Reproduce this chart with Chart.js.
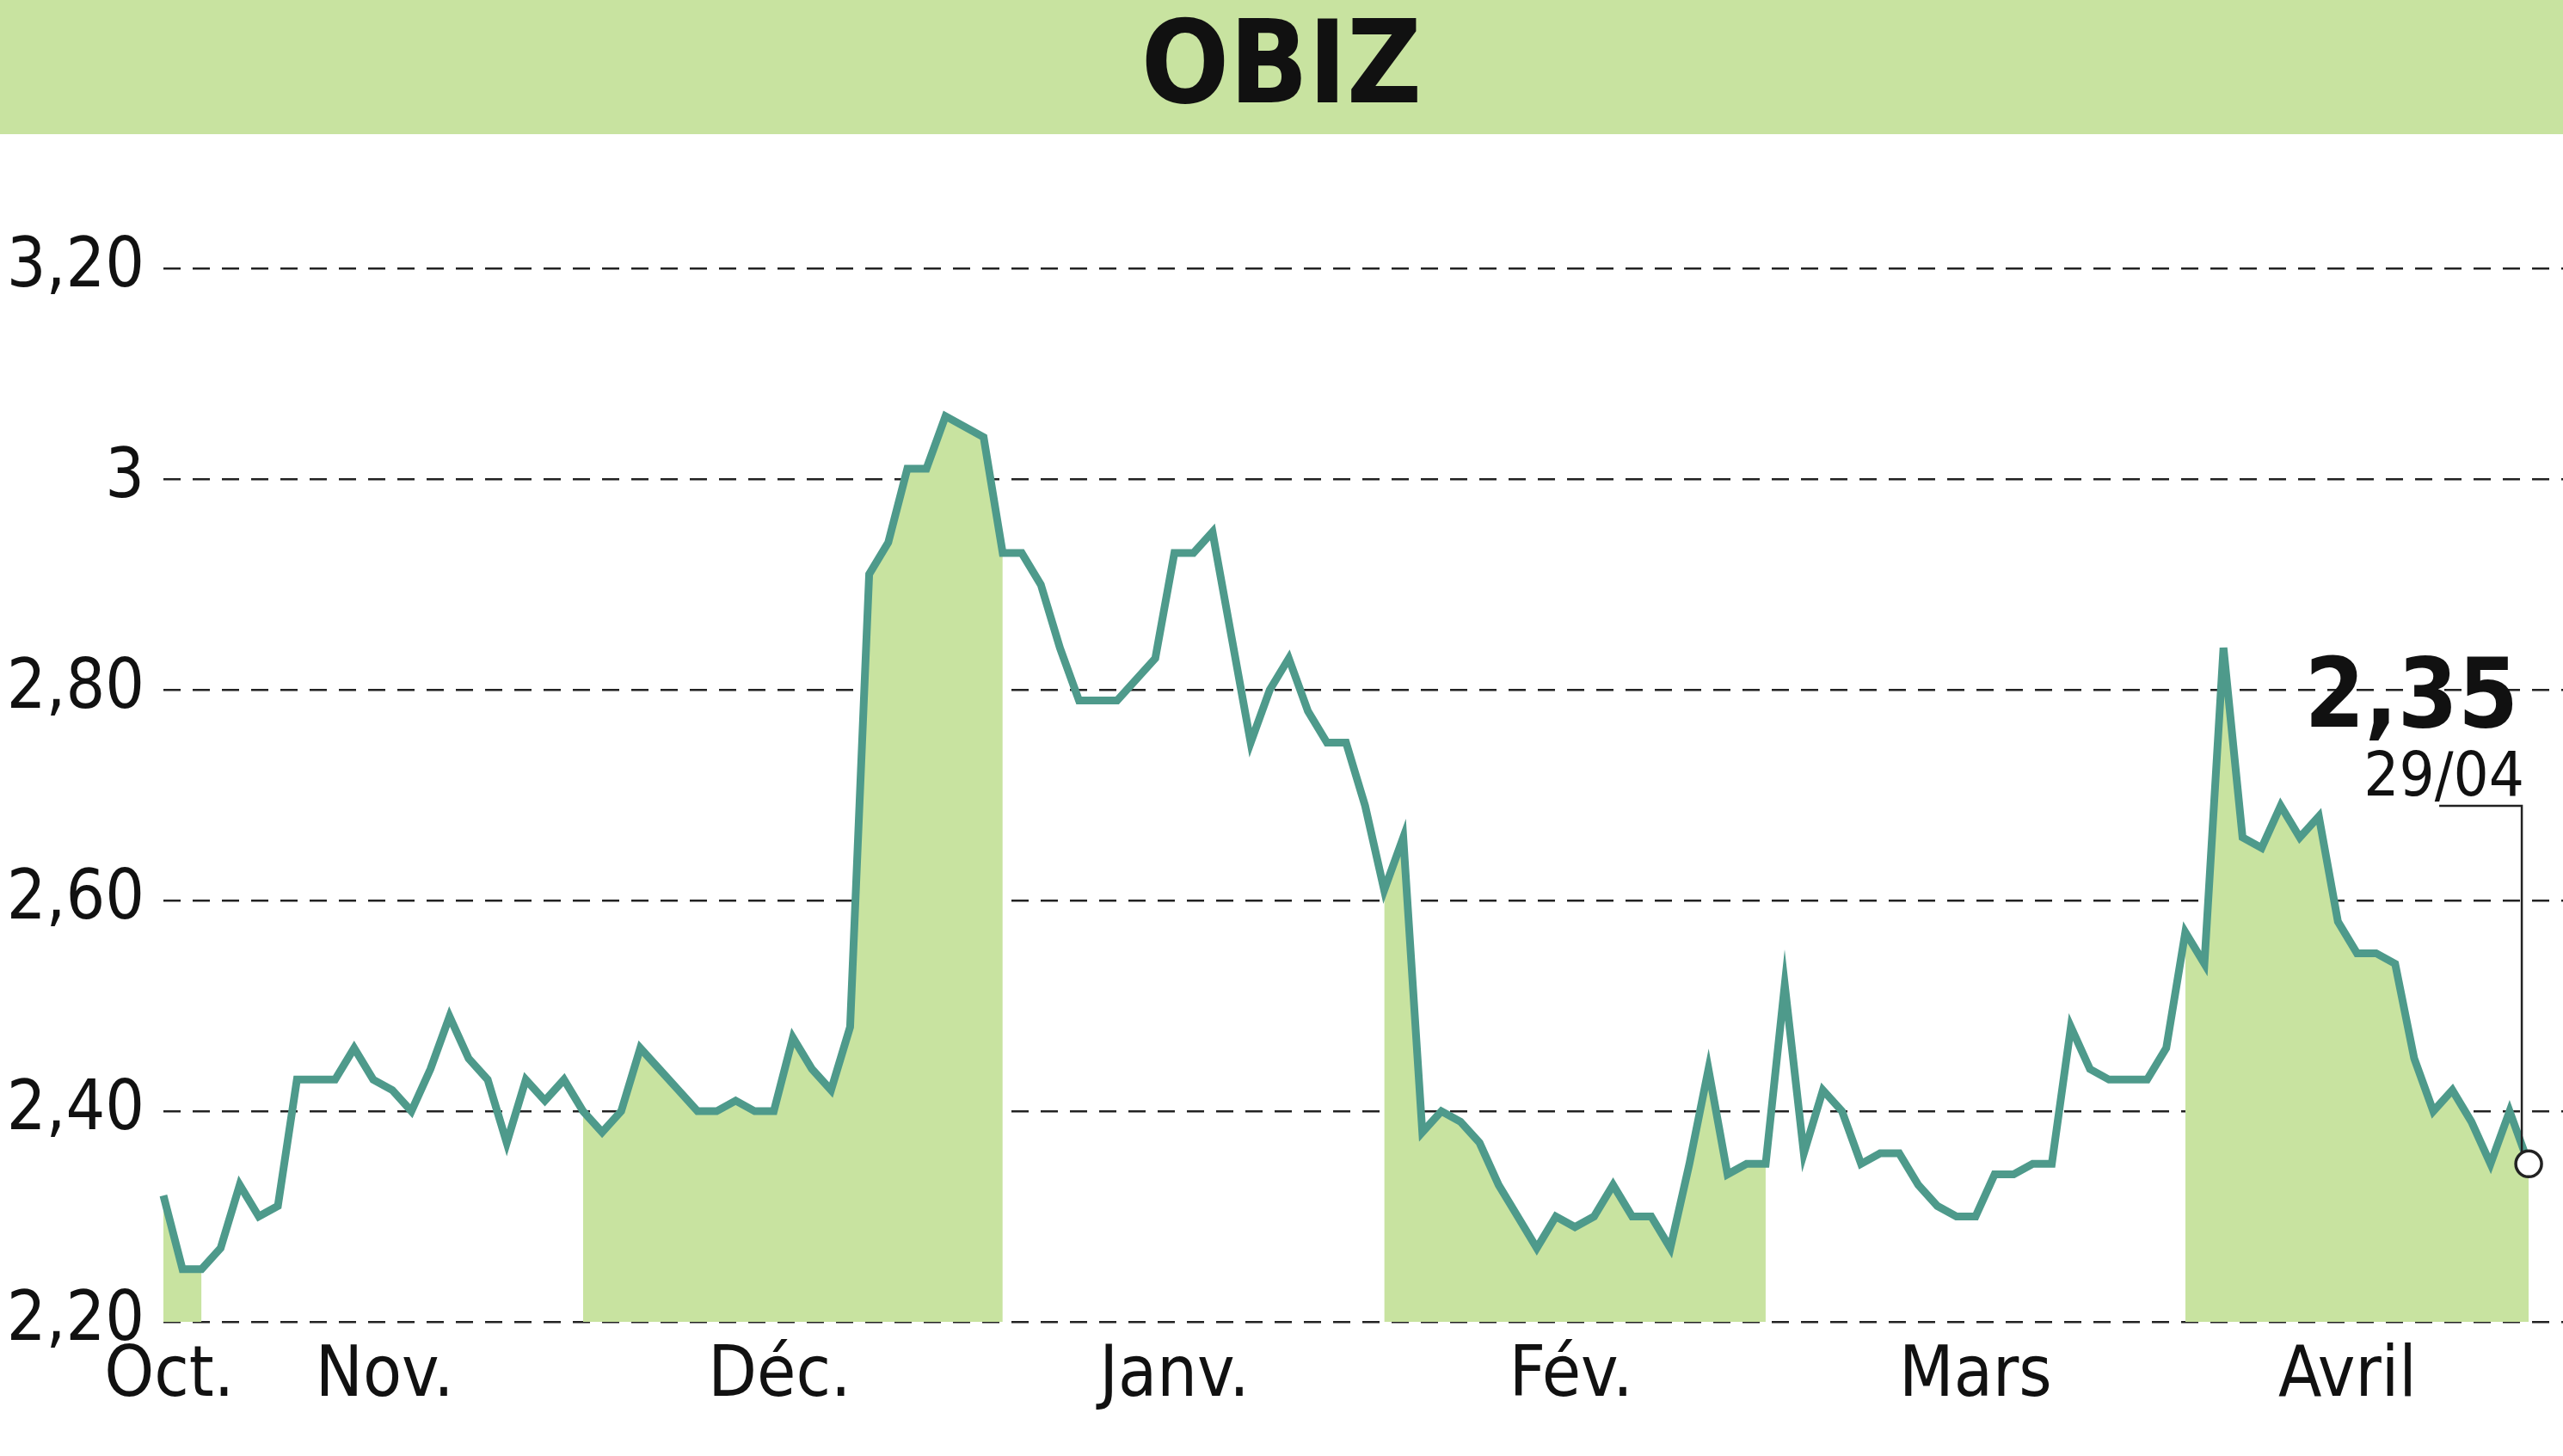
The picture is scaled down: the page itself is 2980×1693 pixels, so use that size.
<!DOCTYPE html>
<html><head><meta charset="utf-8">
<script src="https://cdn.jsdelivr.net/npm/chart.js@4.4.0/dist/chart.umd.min.js"></script>
<style>html,body{margin:0;padding:0;background:#fff}canvas{display:block}</style>
</head><body><canvas id="c" width="2980" height="1693"></canvas>
<script>
const prices=[2.32,2.25,2.25,2.27,2.33,2.30,2.31,2.43,2.43,2.43,2.46,2.43,2.42,2.40,2.44,2.49,2.45,2.43,2.37,2.43,2.41,2.43,2.40,2.38,2.40,2.46,2.44,2.42,2.40,2.40,2.41,2.40,2.40,2.47,2.44,2.42,2.48,2.91,2.94,3.01,3.01,3.06,3.05,3.04,2.93,2.93,2.90,2.84,2.79,2.79,2.79,2.81,2.83,2.93,2.93,2.95,2.85,2.75,2.80,2.83,2.78,2.75,2.75,2.69,2.61,2.66,2.38,2.40,2.39,2.37,2.33,2.30,2.27,2.30,2.29,2.30,2.33,2.30,2.30,2.27,2.35,2.44,2.34,2.35,2.35,2.52,2.36,2.42,2.40,2.35,2.36,2.36,2.33,2.31,2.30,2.30,2.34,2.34,2.35,2.35,2.48,2.44,2.43,2.43,2.43,2.46,2.57,2.54,2.84,2.66,2.65,2.69,2.66,2.68,2.58,2.55,2.55,2.54,2.45,2.40,2.42,2.39,2.35,2.40,2.35];
const monthLabels=["Oct.","Nov.","Déc.","Janv.","Fév.","Mars","Avril"];
const monthPos=[0.3,11.6,32.3,53,73.8,95,114.5];
const shadedRanges=[[0,2],[22,44],[64,84],[106,127]];
const yTicks=[2.2,2.4,2.6,2.8,3.0,3.2];
const lastLabel="2,35", lastDate="29/04";
const title="OBIZ";

const lineData=prices.map((v,i)=>({x:i,y:v}));
const fillData=prices.map((v,i)=>({x:i,y:shadedRanges.some(r=>i>=r[0]&&i<=r[1])?v:null}));
const cond="'Liberation Sans Narrow','DejaVu Sans Condensed','Roboto Condensed',sans-serif";

const deco={id:'deco',
 beforeDraw(ch){const c=ch.ctx;c.save();c.fillStyle='#c8e3a0';c.fillRect(0,0,2980,156);
  c.fillStyle='#111';c.font="bold 134px "+cond;c.textAlign='center';c.textBaseline='middle';
  c.fillText(title,1490,84);c.restore();},
 afterDatasetsDraw(ch){const c=ch.ctx;const m=ch.getDatasetMeta(0);const p=m.data[m.data.length-1];
  c.save();c.strokeStyle='#222';c.lineWidth=2.5;c.beginPath();c.moveTo(p.x-104,937);c.lineTo(p.x-8,937);c.lineTo(p.x-8,p.y);c.stroke();
  c.beginPath();c.arc(p.x,p.y,15,0,Math.PI*2);c.fillStyle='#fff';c.fill();c.lineWidth=3.5;c.stroke();
  c.fillStyle='#111';c.textAlign='right';c.textBaseline='alphabetic';
  c.font="bold 112px "+cond;c.fillText(lastLabel,2928,845);
  c.font="72px "+cond;c.fillText(lastDate,2935,925);c.restore();}
};

new Chart(document.getElementById('c'),{
 type:'line',
 data:{datasets:[
  {data:lineData,borderColor:'#4e9a8b',borderWidth:9,pointRadius:0,fill:false,tension:0,order:0,clip:false},
  {data:fillData,borderWidth:0,borderColor:'rgba(0,0,0,0)',backgroundColor:'#c8e3a0',pointRadius:0,fill:{value:2.2},spanGaps:false,tension:0,order:1,clip:false}
 ]},
 options:{responsive:false,animation:false,
  layout:{padding:{top:190,right:0,left:0,bottom:0}},
  plugins:{legend:{display:false},tooltip:{enabled:false}},
  scales:{
   x:{type:'linear',min:0,max:125.8,
    afterFit(s){s.height=156;},
    afterBuildTicks(s){s.ticks=monthPos.map(v=>({value:v}));},
    grid:{display:false},border:{display:false},
    ticks:{autoSkip:false,maxRotation:0,padding:8,color:'#111',font:{family:cond,size:82},
     callback:(v,i)=>monthLabels[i]}},
   y:{min:2.2,max:3.3,
    afterFit(s){s.width=190;},
    afterBuildTicks(s){s.ticks=yTicks.map(v=>({value:v}));},
    border:{display:false,dash:[20,14]},
    grid:{color:'#222',lineWidth:2.5,drawTicks:false},
    ticks:{padding:22,color:'#111',font:{family:cond,size:80},
     callback:v=>Math.abs(v-3)<1e-9?'3':v.toFixed(2).replace('.',',')}}
  }
 },
 plugins:[deco]
});
</script></body></html>
